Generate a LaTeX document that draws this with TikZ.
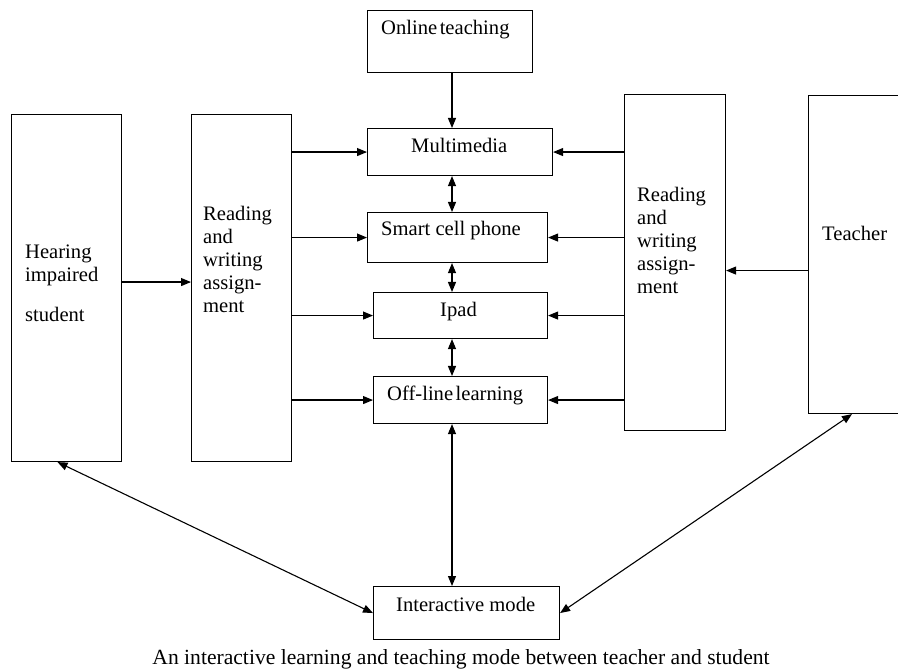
\documentclass[tikz,border=0pt]{standalone}
\usepackage{fontspec}
\setmainfont{Liberation Serif}
\usetikzlibrary{arrows.meta}
\begin{document}
\begin{tikzpicture}[x=1pt,y=-1pt,
  box/.style={draw, line width=1.1pt, inner sep=0pt, anchor=north west},
  lbl/.style={inner sep=0pt, anchor=base west, font=\fontsize{20.6}{23}\selectfont},
  tip/.tip={Triangle[length=10pt,width=8pt]},
  arr/.style={line width=1.1pt, -tip},
  darr/.style={line width=1.1pt, tip-tip}]
\useasboundingbox (0,0) rectangle (898,671);
\clip (0,0) rectangle (898,671);
% boxes
\node[box, minimum width=165pt, minimum height=62pt] (ot) at (367,10) {};
\node[box, minimum width=185pt, minimum height=47pt] (mm) at (367,128) {};
\node[box, minimum width=180pt, minimum height=50pt] (sp) at (367,212) {};
\node[box, minimum width=174pt, minimum height=46pt] (ip) at (373,292) {};
\node[box, minimum width=174pt, minimum height=47pt] (ol) at (373,376) {};
\node[box, minimum width=186pt, minimum height=53pt] (im) at (373,586) {};
\node[box, minimum width=110pt, minimum height=347pt] (hs) at (11,114) {};
\node[box, minimum width=100pt, minimum height=347pt] (lr) at (191,114) {};
\node[box, minimum width=101pt, minimum height=336pt] (rr) at (624,94) {};
\node[box, minimum width=100pt, minimum height=318pt] (tc) at (808,95) {};
% texts
\node[lbl] (otT) at (381,35) {Online\hspace{2.5pt}teaching};
\node[lbl] (mmT) at (411,153) {Multimedia};
\node[lbl] (spT) at (381,236) {Smart cell phone};
\node[lbl] (ipT) at (440,317) {Ipad};
\node[lbl] (olT) at (387,401) {Off-line\hspace{2.5pt}learning};
\node[lbl] (imT) at (396,611) {Interactive mode};
\node[lbl] (tcT) at (822,241) {Teacher};
\node[lbl] (hs1) at (25,259) {Hearing};
\node[lbl] (hs2) at (25,282) {impaired};
\node[lbl] (hs3) at (25,322) {student};
\foreach \t [count=\i] in {Reading,and,writing,assign-,ment}{
  \node[lbl] (lr\i) at (203,{221+23*(\i-1)}) {\t};
  \node[lbl] (rr\i) at (637,{202+23*(\i-1)}) {\t};
}
\node[lbl, anchor=base, font=\fontsize{21.6}{24}\selectfont] (cap) at (461,664) {An interactive learning and teaching mode between teacher and student};
% connectors
\coordinate (cx) at (452,0);
\draw[arr] (cx |- ot.south) -- (cx |- mm.north);
\draw[darr] (cx |- mm.south) -- (cx |- sp.north);
\draw[darr] (cx |- sp.south) -- (cx |- ip.north);
\draw[darr] (cx |- ip.south) -- (cx |- ol.north);
\draw[darr] (cx |- ol.south) -- (cx |- im.north);
\foreach \b in {mm,sp,ip,ol}{
  \draw[arr] (lr.east |- \b.west) -- (\b.west);
  \draw[arr] (rr.west |- \b.east) -- (\b.east);
}
\draw[arr] ([yshift=6pt]hs.east) -- ([yshift=6pt]lr.west);
\path ([yshift=-16pt]tc.west) coordinate (t1);
\draw[arr] (t1) -- (rr.east |- t1);
\draw[darr] ([xshift=-9pt]hs.south) -- (im.west);
\draw[darr] (im.east) -- ([xshift=44pt]tc.south west);
\end{tikzpicture}
\end{document}
